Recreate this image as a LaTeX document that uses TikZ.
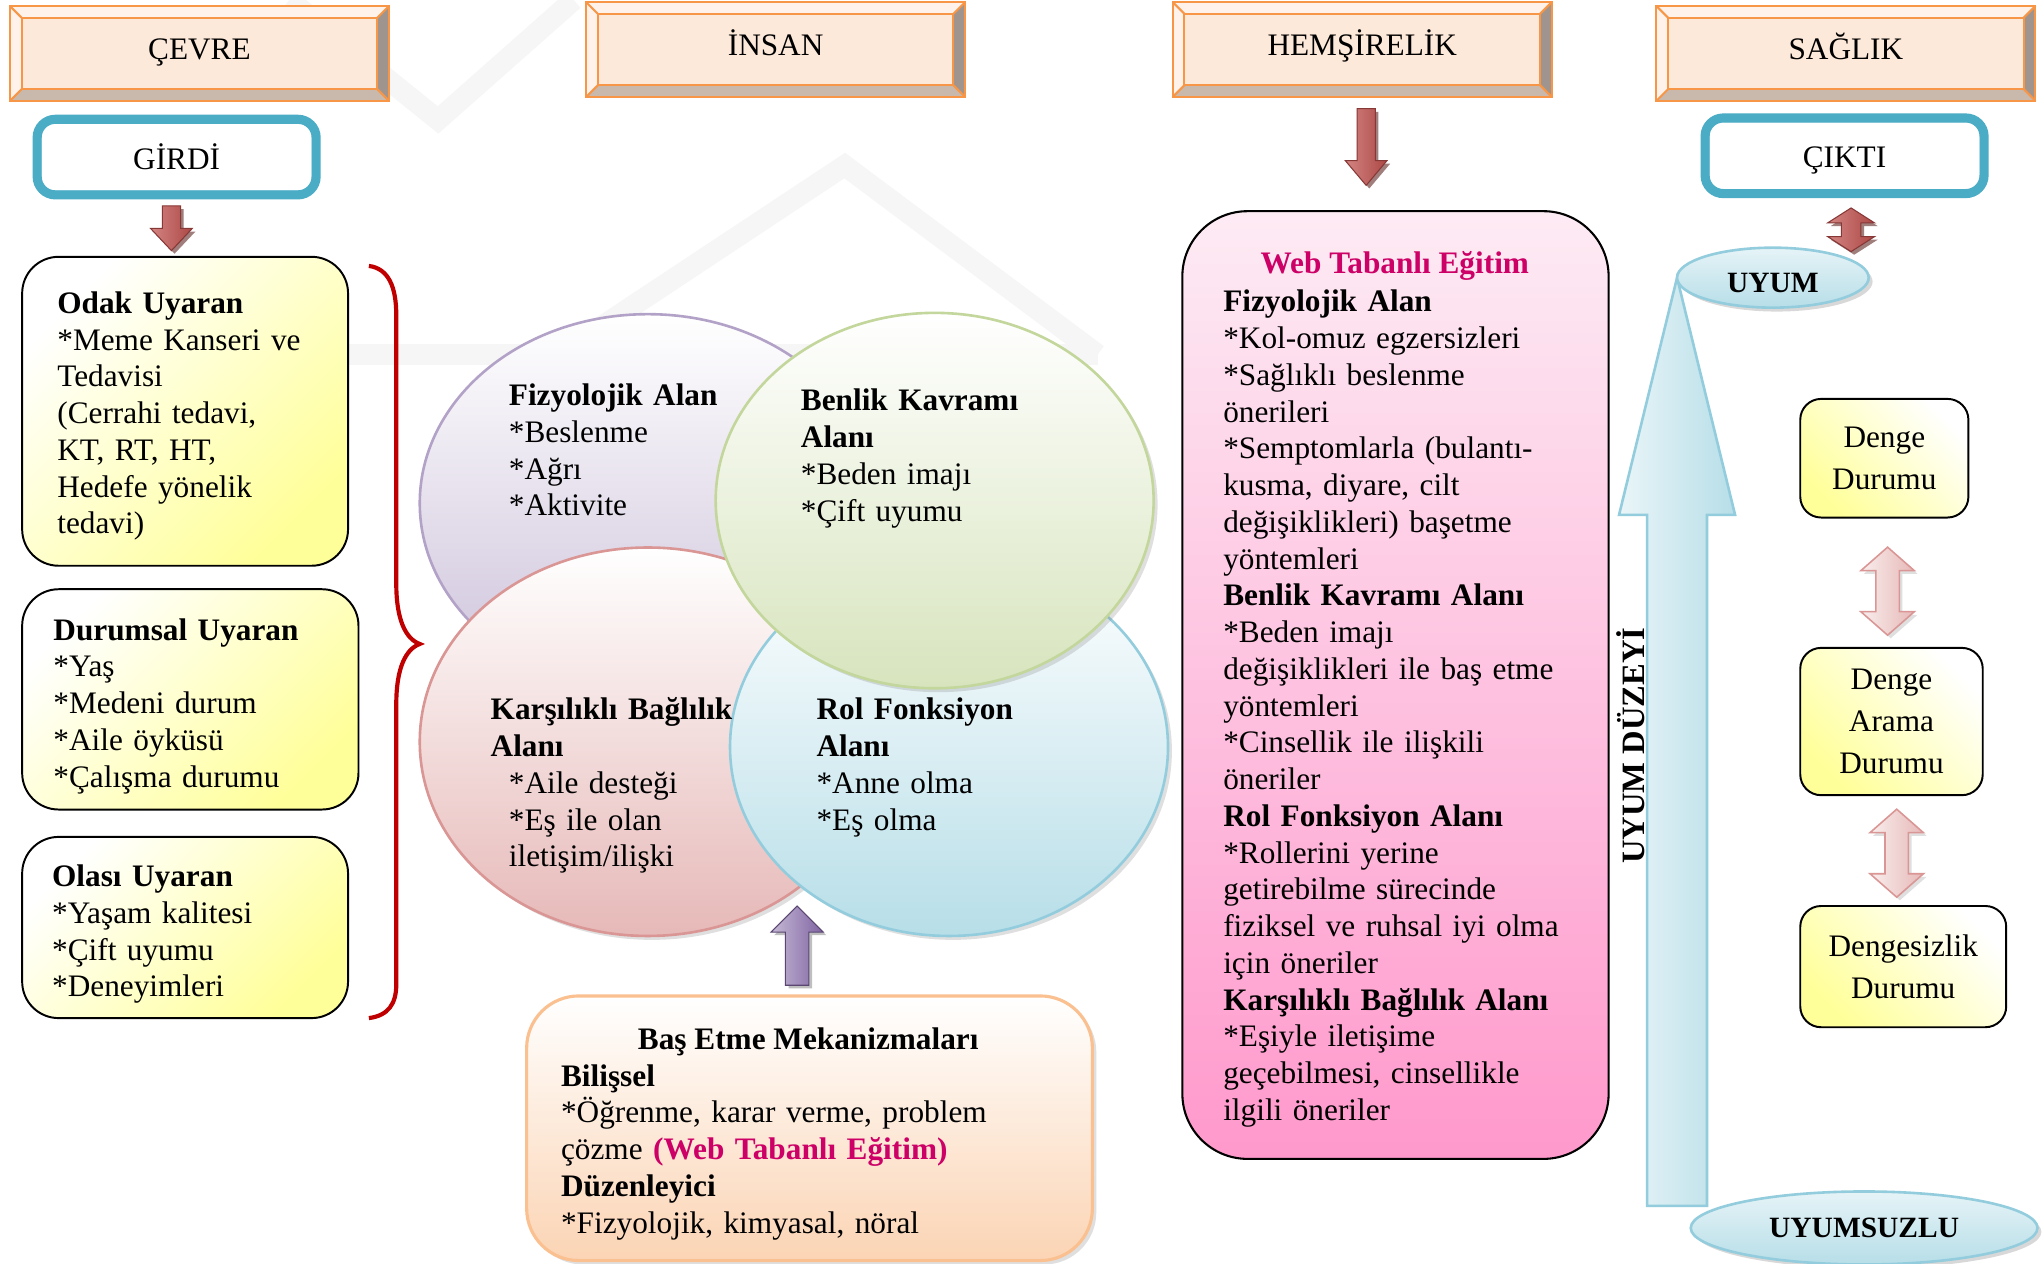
\documentclass[tikz,border=0pt]{standalone}
\usepackage{fontspec}
\setmainfont{Liberation Serif}
\usetikzlibrary{calc,shapes.geometric,shadows}

\definecolor{peach}{HTML}{FDE9D9}
\definecolor{peachlite}{HTML}{FEF2EA}
\definecolor{orng}{HTML}{F79646}
\definecolor{bevtan}{HTML}{C9B9AD}
\definecolor{bevgray}{HTML}{A0958E}
\definecolor{tealc}{HTML}{4BACC6}
\definecolor{ylw}{HTML}{FFFF99}
\definecolor{pnktop}{HTML}{FDEBF4}
\definecolor{pnkbot}{HTML}{FF99CC}
\definecolor{mgnt}{HTML}{CC0066}
\definecolor{apric}{HTML}{FBD4B4}
\definecolor{apricline}{HTML}{FAC090}
\definecolor{lav}{HTML}{CCC1DA}
\definecolor{lavline}{HTML}{B3A2C7}
\definecolor{lime}{HTML}{D7E4BD}
\definecolor{limeline}{HTML}{C3D69B}
\definecolor{rose}{HTML}{E6B9B8}
\definecolor{roseline}{HTML}{D99694}
\definecolor{sky}{HTML}{B7DEE8}
\definecolor{skyline}{HTML}{93CDDD}
\definecolor{redarr}{HTML}{C0504D}
\definecolor{purarr}{HTML}{8064A2}
\definecolor{brc}{HTML}{C00000}

% vertical block arrow: style, tail, tip, half shaft, half head, head length
\newcommand\blockarr[6]{%
  \path[#1] let \p1=#2, \p2=#3, \n2={\y2-(\y2-\y1)/abs(\y2-\y1)*#6} in
    (\x1-#4,\y1) -- (\x2-#4,\n2*1pt) -- (\x2-#5,\n2*1pt) -- (\x2,\y2)
    -- (\x2+#5,\n2*1pt) -- (\x2+#4,\n2*1pt) -- (\x1+#4,\y1) -- cycle;}
% double headed block arrow: style, upper tip, lower tip, half shaft, half head, head length
\newcommand\twinarr[6]{%
  \path[#1] let \p1=#2, \p2=#3 in
    (\x1,\y1) -- (\x1+#5,\y1-#6) -- (\x1+#4,\y1-#6) -- (\x2+#4,\y2+#6) -- (\x2+#5,\y2+#6)
    -- (\x2,\y2) -- (\x2-#5,\y2+#6) -- (\x2-#4,\y2+#6) -- (\x1-#4,\y1-#6) -- (\x1-#5,\y1-#6) -- cycle;}

\begin{document}
\begin{tikzpicture}[x=0.5pt,y=-0.5pt,
  font=\fontsize{12}{14.1}\selectfont,
  headbox/.style={rectangle,fill=peach,inner sep=0pt,minimum width=145pt,minimum height=36pt,text height=9pt,text depth=4.7pt},
  bevline/.style={draw=orng,line width=0.8pt},
  frame/.style={rectangle,draw=tealc,line width=3.5pt,fill=white,rounded corners=7pt,inner sep=0pt,minimum width=107pt,minimum height=29pt,text height=9.3pt,text depth=0pt},
  stimbox/.style={rectangle,draw=black,line width=0.75pt,rounded corners=14pt,top color=white,bottom color=ylw,shading angle=45,inner sep=0pt,align=left},
  statebox/.style={rectangle,draw=black,line width=0.75pt,rounded corners=8pt,top color=white,bottom color=ylw,shading angle=-45,inner sep=0pt,align=center,font=\fontsize{12}{16}\selectfont},
  venn/.style={ellipse,inner sep=0pt,line width=1pt,drop shadow={shadow xshift=1.5pt,shadow yshift=-1.5pt,opacity=0.25}},
  venntxt/.style={anchor=north west,inner sep=0pt,text width=115pt,align=left},
  uyumell/.style={ellipse,inner sep=0pt,draw=skyline,line width=1pt,top color=sky!35!white,bottom color=sky,font=\bfseries\fontsize{11.3}{13}\selectfont,drop shadow={shadow xshift=1.5pt,shadow yshift=-1.5pt,opacity=0.3}},
  redblk/.style={draw=redarr!70!black,line width=0.4pt,left color=redarr!70!white,right color=redarr!90!black,drop shadow={shadow xshift=1.2pt,shadow yshift=-1.2pt,fill=redarr!50!black,opacity=0.6}},
  pinkblk/.style={draw=roseline,line width=0.6pt,left color=rose!25!white,right color=rose,drop shadow={shadow xshift=1.2pt,shadow yshift=-1.2pt,opacity=0.25}},
  purblk/.style={draw=purarr!70!black,line width=0.4pt,left color=purarr!45!white,right color=purarr,drop shadow={shadow xshift=1.2pt,shadow yshift=-1.2pt,opacity=0.5}},
  blueblk/.style={draw=skyline,line width=1pt,left color=sky!30!white,right color=sky},
  wmark/.style={gray!7,line width=8pt}
]
\useasboundingbox (0,0) rectangle (1568,969);
\fill[white] (0,0) rectangle (1568,969);

% Watermark
\draw[wmark] (222,0) -- (336,92) -- (440,0);
\draw[wmark] (429,272) -- (648,127) -- (842,272);
\draw[wmark] (262,272) -- (842,272);

% Header boxes
\foreach \nm/\cx/\cy/\txt in {cevre/153/41/ÇEVRE,insan/595/38/İNSAN,hemsire/1045/38/HEMŞİRELİK,saglik/1416/41/SAĞLIK}
{
\node[headbox] (\nm) at (\cx,\cy) {\txt};
\fill[peachlite] (\nm.north west) -- (\nm.north east) -- ++(-9,9) -- ($(\nm.north west)+(9,9)$) -- ($(\nm.south west)+(9,-9)$) -- (\nm.south west) -- cycle;
\fill[bevtan] (\nm.south west) -- (\nm.south east) -- ++(-9,-9) -- ($(\nm.south west)+(9,-9)$) -- cycle;
\fill[bevgray] (\nm.north east) -- (\nm.south east) -- ++(-9,-9) -- ($(\nm.north east)+(-9,9)$) -- cycle;
\draw[bevline] (\nm.north west) rectangle (\nm.south east);
\draw[bevline] ($(\nm.north west)+(9,9)$) rectangle ($(\nm.south east)+(-9,-9)$);
\draw[bevline] (\nm.north west) -- ++(9,9) (\nm.north east) -- ++(-9,9) (\nm.south west) -- ++(9,-9) (\nm.south east) -- ++(-9,-9);
}

% Input / output frames
\foreach \nm/\cx/\cy/\txt in {girdi/135.5/120.5/GİRDİ,cikti/1415/119.5/ÇIKTI}
{
\node[frame] (\nm) at (\cx,\cy) {\txt};
\draw[tealc,line width=0.7pt,rounded corners=4pt] ($(\nm.north west)+(6,6)$) rectangle ($(\nm.south east)+(-6,-6)$);
}

% Stimuli
\node[stimbox,minimum width=125pt,minimum height=118.5pt,text width=98pt] (odak) at (142,315.5)
  {\rule{0pt}{12pt}\textbf{Odak Uyaran}\\{}*Meme Kanseri ve\\Tedavisi\\(Cerrahi tedavi,\\KT, RT, HT,\\Hedefe yönelik\\tedavi)};
\node[stimbox,minimum width=129pt,minimum height=84.5pt,text width=105pt] (durum) at (146,536.5)
  {\rule{0pt}{13.5pt}\textbf{Durumsal Uyaran}\\{}*Yaş\\{}*Medeni durum\\{}*Aile öyküsü\\{}*Çalışma durumu};
\node[stimbox,minimum width=125pt,minimum height=69.5pt,text width=102pt] (olasi) at (142,711.5)
  {\rule{0pt}{13.5pt}\textbf{Olası Uyaran}\\{}*Yaşam kalitesi\\{}*Çift uyumu\\{}*Deneyimleri};

\blockarr{redblk}{($(girdi.south)+(-4,5)$)}{($(girdi.south |- odak.north)+(-4,-4)$)}{3.5pt}{8pt}{8.5pt}

% Brace
\draw[brc,line width=1.6pt] (283,204) .. controls (298,206) and (304,220) .. (304,242) -- (304,448)
  .. controls (304,475) and (311,490) .. (322,494) .. controls (311,498) and (304,513) .. (304,540)
  -- (304,755) .. controls (304,770) and (298,779) .. (283,781);

% Adaptive modes
\node[venn,draw=lavline,top color=white,bottom color=lav,minimum width=175pt,minimum height=145pt] (fizyo) at (497,386) {};
\node[venn,draw=roseline,top color=white,bottom color=rose,minimum width=175pt,minimum height=149pt] (karsi) at (497,569) {};
\node[venn,draw=skyline,top color=white,bottom color=sky,minimum width=168pt,minimum height=145pt] (rol) at (728,573) {};
\node[venn,draw=limeline,top color=white,bottom color=lime,minimum width=168pt,minimum height=144pt] (benlik) at (717,384) {};

\node[venntxt] (fizyotxt) at (390,291) {\strut\textbf{Fizyolojik Alan}\\{}*Beslenme\\{}*Ağrı\\{}*Aktivite};
\node[venntxt] (benliktxt) at (614,295) {\strut\textbf{Benlik Kavramı}\\\textbf{Alanı}\\{}*Beden imajı\\{}*Çift uyumu};
\node[venntxt] (karsitxt) at (376,532) {\strut\textbf{Karşılıklı Bağlılık}\\\textbf{Alanı}\\\hspace*{7pt}*Aile desteği\\\hspace*{7pt}*Eş ile olan\\\hspace*{7pt}iletişim/ilişki};
\node[venntxt] (roltxt) at (626,532) {\strut\textbf{Rol Fonksiyon}\\\textbf{Alanı}\\{}*Anne olma\\{}*Eş olma};

% Coping
\node[rectangle,draw=apricline,line width=1.2pt,rounded corners=20pt,top color=white,bottom color=apric,
  minimum width=217pt,minimum height=101.5pt,drop shadow={shadow xshift=1.5pt,shadow yshift=-1.5pt,opacity=0.25}] (basetme) at (621,865.5) {};
\node (bastitle) at (620,799) {\textbf{Baş Etme Mekanizmaları}};
\node[venntxt,text width=180pt] (bastxt) at (430,813) {\strut\textbf{Bilişsel}\\{}*Öğrenme, karar verme, problem\\çözme \textcolor{mgnt}{\textbf{(Web Tabanlı Eğitim)}}\\\textbf{Düzenleyici}\\{}*Fizyolojik, kimyasal, nöral};
\coordinate (copetip) at (611.5,695);
\blockarr{purblk}{($(basetme.north)+(-9.5,-7)$)}{(copetip)}{4.5pt}{10pt}{10pt}

% Nursing
\node[rectangle,draw=black,line width=0.8pt,rounded corners=25pt,top color=pnktop,bottom color=pnkbot,
  minimum width=163.5pt,minimum height=363.5pt] (web) at (1070.5,525.5) {};
\node (webtitle) at (1070,204) {\textcolor{mgnt}{\textbf{Web Tabanlı Eğitim}}};
\node[venntxt,text width=140pt] (webtxt) at (938,219) {\strut\textbf{Fizyolojik Alan}\\{}*Kol-omuz egzersizleri\\{}*Sağlıklı beslenme\\önerileri\\{}*Semptomlarla (bulantı-\\kusma, diyare, cilt\\değişiklikleri) başetme\\yöntemleri\\\textbf{Benlik Kavramı Alanı}\\{}*Beden imajı\\değişiklikleri ile baş etme\\yöntemleri\\{}*Cinsellik ile ilişkili\\öneriler\\\textbf{Rol Fonksiyon Alanı}\\{}*Rollerini yerine\\getirebilme sürecinde\\fiziksel ve ruhsal iyi olma\\için öneriler\\\textbf{Karşılıklı Bağlılık Alanı}\\{}*Eşiyle iletişime\\geçebilmesi, cinsellikle\\ilgili öneriler};
\blockarr{redblk}{($(hemsire.south)+(3,9)$)}{($(hemsire.south |- web.north)+(3,-19)$)}{3.5pt}{8pt}{9.5pt}

% Adaptation level
\node[uyumell,minimum width=133pt,minimum height=28pt] (uyumsuz) at (1430,942) {UYUMSUZLU};
\coordinate (uyumtip) at (1286.5,213);
\blockarr{blueblk}{($(uyumtip |- uyumsuz.north)+(0,12)$)}{(uyumtip)}{11.5pt}{22.25pt}{91pt}
\node[uyumell,minimum width=73.5pt,minimum height=23pt,text height=11.5pt,text depth=0pt] (uyum) at (1360,213) {UYUM};
\node[rotate=90,font=\bfseries\fontsize{12.5}{14}\selectfont] (duzey) at (1251,572) {UYUM DÜZEYİ};
\twinarr{redblk}{($(cikti.south)+(5,7.5)$)}{($(cikti.south |- uyum.north)+(5,4)$)}{3.75pt}{9pt}{5.75pt}

\node[statebox,minimum width=64.5pt,minimum height=45.5pt] (denge) at (1445.5,351.5) {Denge\\Durumu};
\node[statebox,minimum width=70pt,minimum height=56.5pt] (arama) at (1451,553.5) {Denge\\Arama\\Durumu};
\node[statebox,minimum width=79pt,minimum height=46.5pt] (dengesiz) at (1460,741.5) {Dengesizlik\\Durumu};
\twinarr{pinkblk}{($(denge.south)+(2.5,22)$)}{($(denge.south |- arama.north)+(2.5,-9)$)}{4.5pt}{10.25pt}{9pt}
\twinarr{pinkblk}{($(arama.south)+(4,10)$)}{($(arama.south |- dengesiz.north)+(4,-6)$)}{4.5pt}{10.25pt}{9pt}

\end{tikzpicture}
\end{document}
